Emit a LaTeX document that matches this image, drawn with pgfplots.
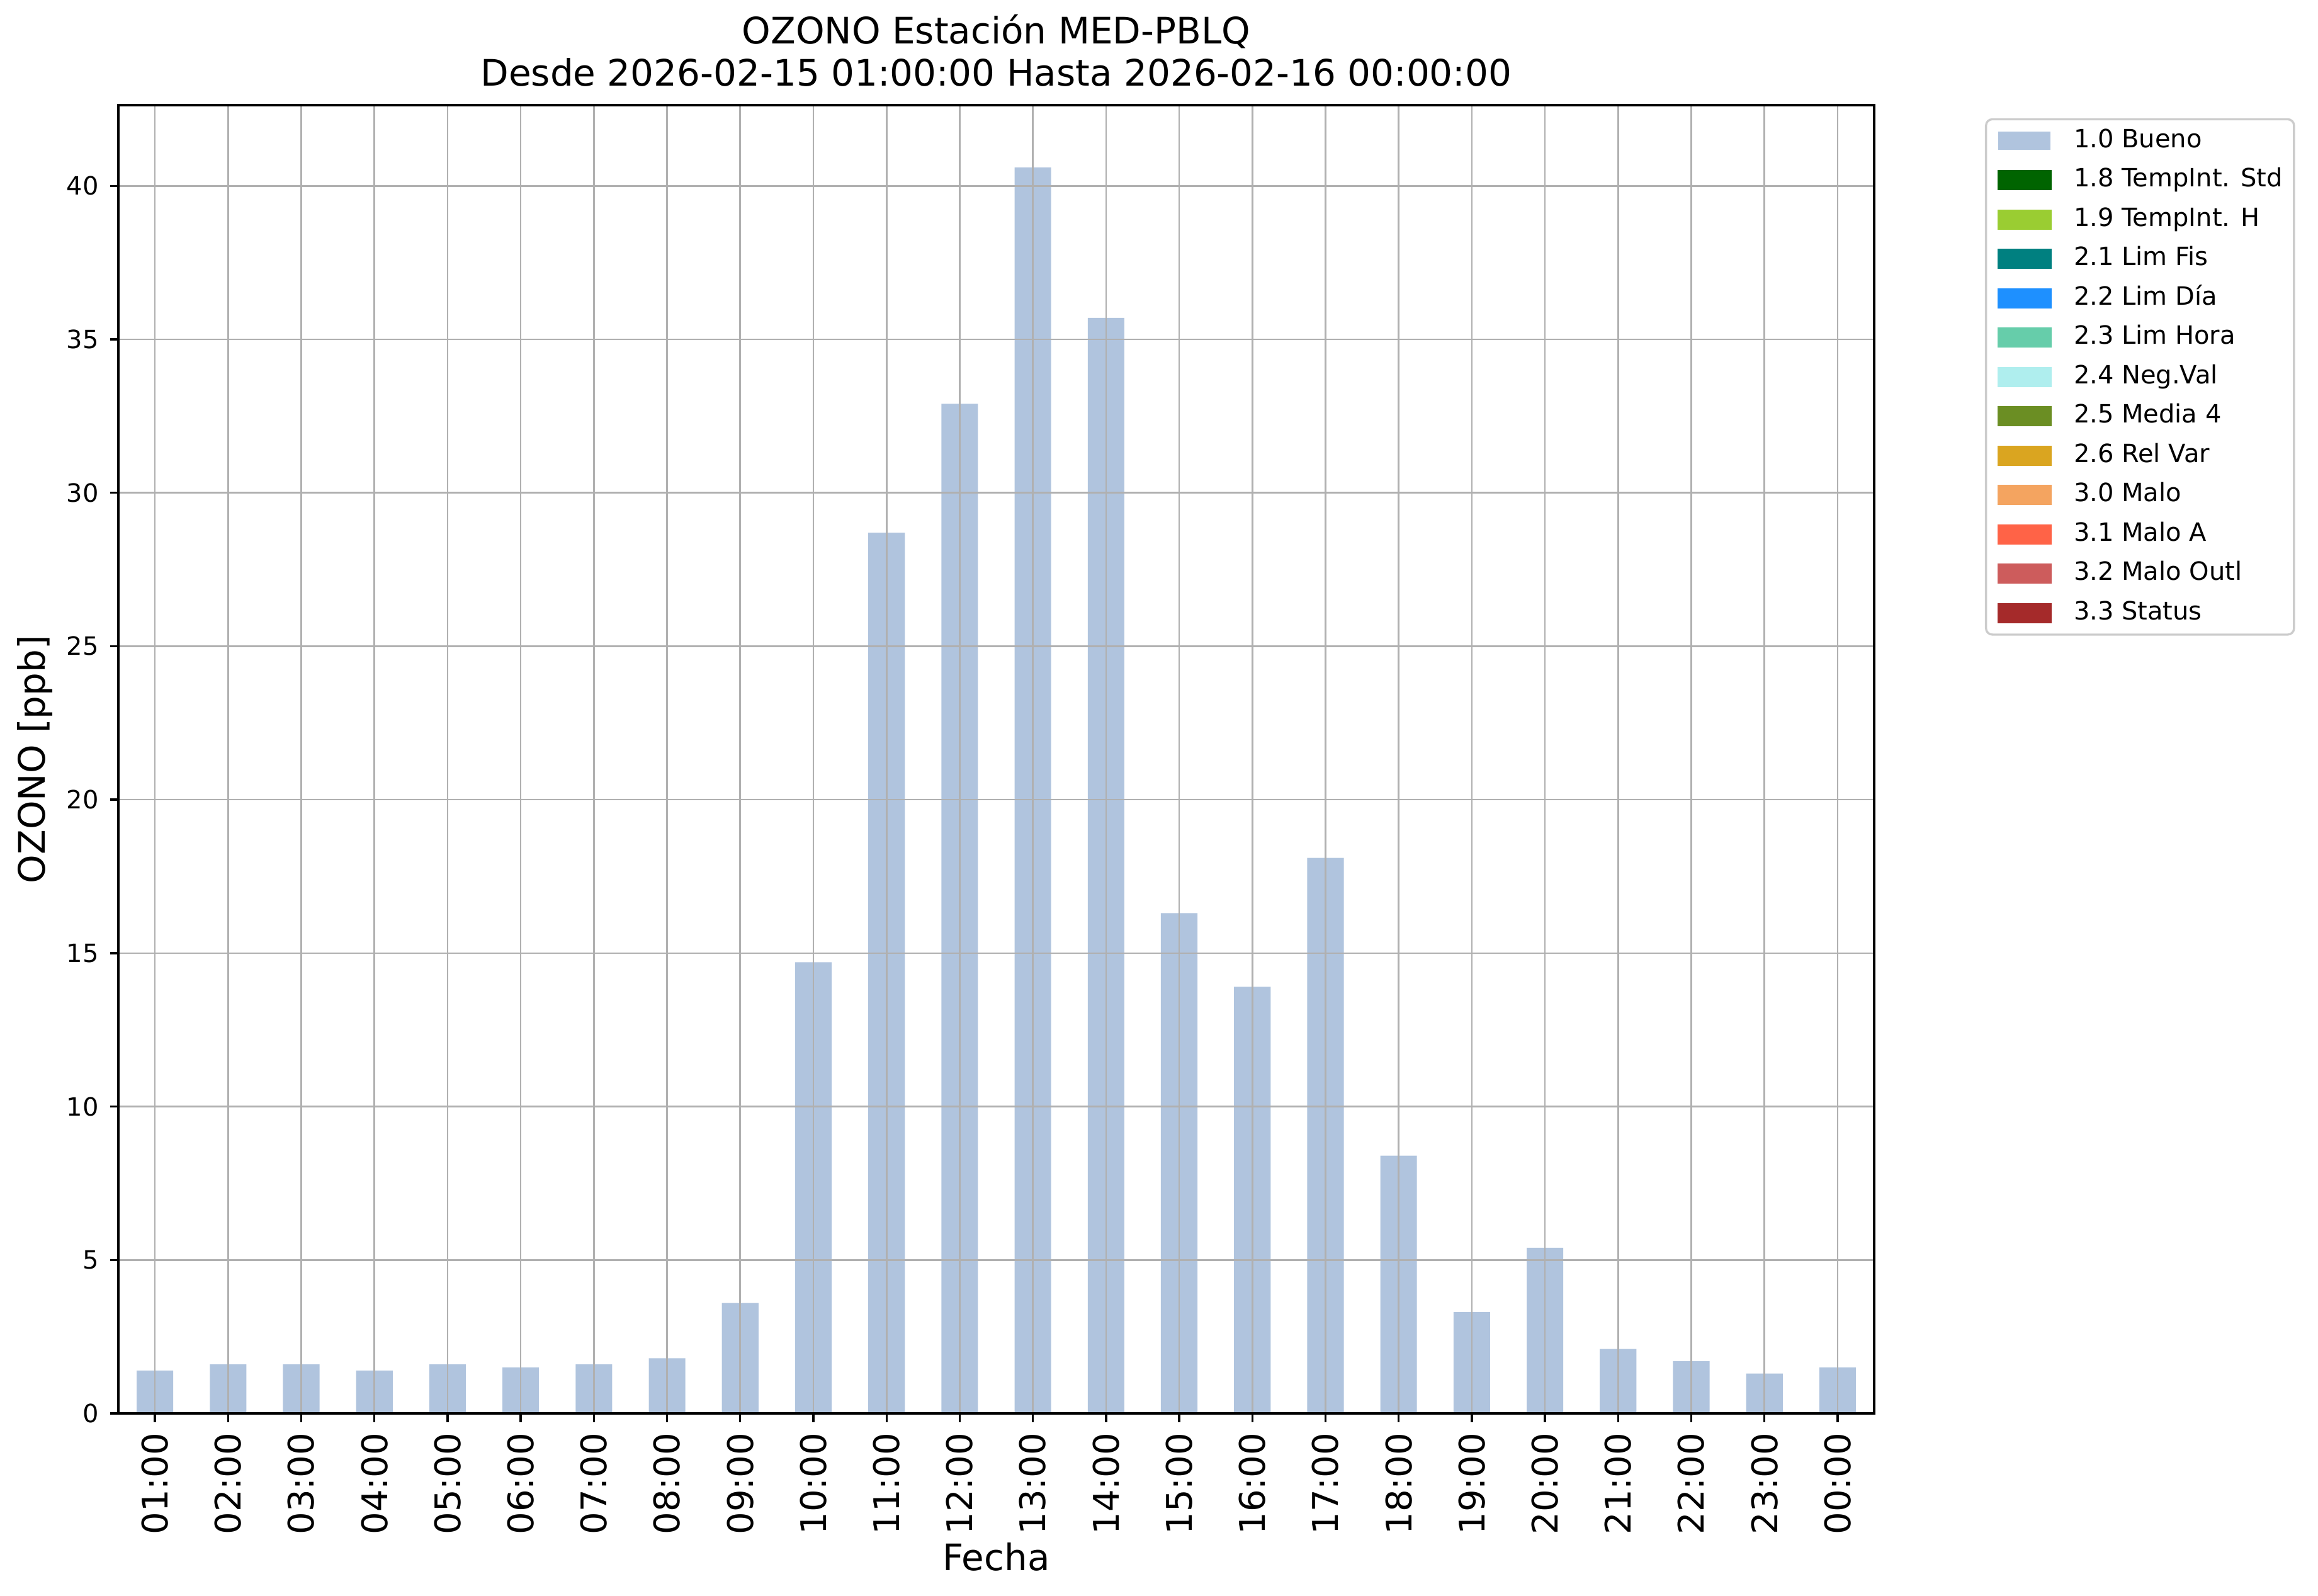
\documentclass[border=0pt]{standalone}
\usepackage{pgfplots}
\pgfplotsset{compat=1.18}
\usepackage{fontspec}
\setmainfont{DejaVu Sans}
\definecolor{bueno}{RGB}{176,196,222}
\definecolor{tempstd}{RGB}{0,100,0}
\definecolor{temph}{RGB}{154,205,50}
\definecolor{limfis}{RGB}{0,128,128}
\definecolor{limdia}{RGB}{30,144,255}
\definecolor{limhora}{RGB}{102,205,170}
\definecolor{negval}{RGB}{175,238,238}
\definecolor{media}{RGB}{107,142,35}
\definecolor{relvar}{RGB}{218,165,32}
\definecolor{malo}{RGB}{244,164,96}
\definecolor{maloa}{RGB}{255,99,71}
\definecolor{malooutl}{RGB}{205,92,92}
\definecolor{status}{RGB}{165,42,42}
\definecolor{gridgray}{RGB}{176,176,176}
\definecolor{legendgray}{RGB}{204,204,204}
\pgfplotsset{
  patch/.style={legend image code/.code={\fill[#1, sharp corners] (0pt,-2.85pt) rectangle (16.6pt,2.85pt);}}
}
\begin{document}
\begin{tikzpicture}
\useasboundingbox (0,0) rectangle (736.4pt,506.8pt);
\begin{axis}[
  at={(37.6pt,57.8pt)}, anchor=south west,
  scale only axis, width=557.8pt, height=415.6pt,
  xmin=-0.5, xmax=23.5, ymin=0, ymax=42.63,
  xtick={0,...,23},
  xticklabels={01:00,02:00,03:00,04:00,05:00,06:00,07:00,08:00,09:00,10:00,11:00,12:00,13:00,14:00,15:00,16:00,17:00,18:00,19:00,20:00,21:00,22:00,23:00,00:00},
  ytick={0,5,...,40},
  grid=major,
  major grid style={draw=gridgray, line width=0.53pt},
  axis line style={line width=0.67pt},
  tick style={black, line width=0.67pt},
  major tick length=2.7pt, tick align=outside,
  xtick pos=bottom, ytick pos=left,
  x tick label style={rotate=90, anchor=east, font=\fontsize{11.2}{13}\selectfont},
  y tick label style={font=\fontsize{8}{9.6}\selectfont},
  /pgf/number format/assume math mode=true,
  title={OZONO Estación MED-PBLQ\\Desde 2026-02-15 01:00:00 Hasta 2026-02-16 00:00:00},
  title style={align=center, font=\fontsize{11.6}{13.4}\selectfont, at={(0.5,1)}, anchor=south, yshift=-3.6pt},
  xlabel={Fecha},
  ylabel={OZONO [ppb]},
  xlabel style={font=\fontsize{11.6}{13}\selectfont, yshift=4.2pt},
  ylabel style={font=\fontsize{11.6}{13}\selectfont, yshift=-2.3pt},
  axis on top,
  legend cell align=left,
  legend style={at={(1.0631,0.990)}, anchor=north west, draw=legendgray, line width=0.67pt,
    rounded corners=2pt, font=\fontsize{8}{9.6}\selectfont,
    inner xsep=3.6pt, inner ysep=3pt, column sep=7pt, row sep=4.8pt,
    nodes={inner sep=0pt, text height=6pt, text depth=1.7pt}},
]
\addplot[ybar, bar width=0.5, fill=bueno, draw=none, patch={bueno}] coordinates {
(0,1.4) (1,1.6) (2,1.6) (3,1.4) (4,1.6) (5,1.5) (6,1.6) (7,1.8) (8,3.6) (9,14.7)
(10,28.7) (11,32.9) (12,40.6) (13,35.7) (14,16.3) (15,13.9) (16,18.1) (17,8.4)
(18,3.3) (19,5.4) (20,2.1) (21,1.7) (22,1.3) (23,1.5)};
\addlegendentry{1.0 Bueno}
\addlegendimage{patch={tempstd}}\addlegendentry{1.8 TempInt. Std}
\addlegendimage{patch={temph}}\addlegendentry{1.9 TempInt. H}
\addlegendimage{patch={limfis}}\addlegendentry{2.1 Lim Fis}
\addlegendimage{patch={limdia}}\addlegendentry{2.2 Lim Día}
\addlegendimage{patch={limhora}}\addlegendentry{2.3 Lim Hora}
\addlegendimage{patch={negval}}\addlegendentry{2.4 Neg.Val}
\addlegendimage{patch={media}}\addlegendentry{2.5 Media 4}
\addlegendimage{patch={relvar}}\addlegendentry{2.6 Rel Var}
\addlegendimage{patch={malo}}\addlegendentry{3.0 Malo}
\addlegendimage{patch={maloa}}\addlegendentry{3.1 Malo A}
\addlegendimage{patch={malooutl}}\addlegendentry{3.2 Malo Outl}
\addlegendimage{patch={status}}\addlegendentry{3.3 Status}
\end{axis}
\end{tikzpicture}
\end{document}
